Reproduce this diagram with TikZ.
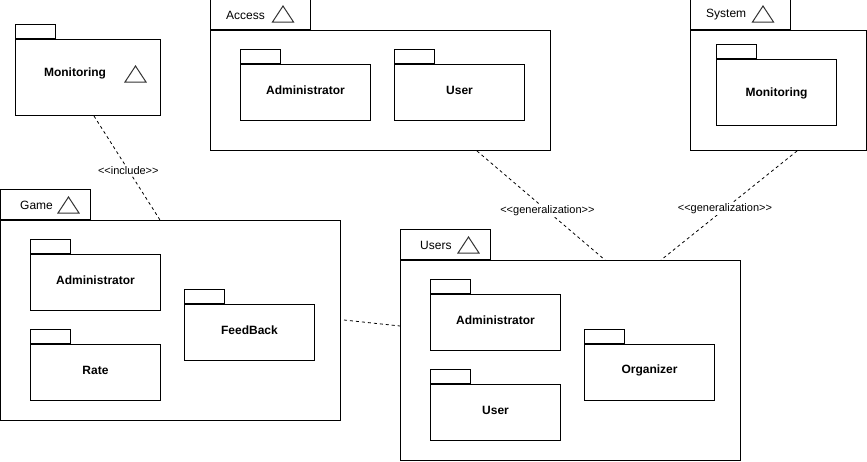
\documentclass[tikz,border=0pt]{standalone}
\usepackage{fontspec}
\setmainfont{Liberation Sans}
\usetikzlibrary{calc}
\tikzset{
  x=1pt, y=-1pt,
  pkgbox/.style={draw=black, line width=1pt, fill=white, inner sep=0pt, anchor=north west},
  pkgtab/.style={draw=black, line width=1pt, fill=white, inner sep=0pt, anchor=south west},
  inname/.style={font=\fontsize{12}{14}\selectfont\bfseries, yshift=2.5pt},
  tabname/.style={font=\fontsize{12}{14}\selectfont, anchor=west, inner sep=0pt},
  tri/.style={draw=black!80, line width=1pt, line join=miter},
  dep/.style={draw=black, line width=0.8pt, dash pattern=on 3pt off 3pt},
  deplabel/.style={fill=white, inner sep=1pt, font=\fontsize{11}{13}\selectfont}
}
\newcommand{\umltri}[2]{\draw[tri] (#1-10.5,#2+8) -- (#1,#2-8) -- (#1+10.5,#2+8) -- cycle;}
\begin{document}
\begin{tikzpicture}
\useasboundingbox (0,0) rectangle (867,461);

% ---- Monitoring (top-left)
\node[pkgbox, minimum width=145, minimum height=76] (monB) at (15,39) {};
\node[pkgtab, minimum width=40, minimum height=14] (monT) at (monB.north west) {};
\node[font=\fontsize{12}{14}\selectfont\bfseries] (monL) at (75,73) {Monitoring};
\umltri{135.5}{74}

% ---- Access
\node[pkgbox, minimum width=340, minimum height=120] (accB) at (210,30) {};
\node[pkgtab, minimum width=100, minimum height=30] (accT) at (accB.north west) {};
\node[tabname] (accL) at (226,15) {Access};
\umltri{283}{14}
\node[pkgbox, minimum width=130, minimum height=56] (accAB) at (240,64) {};
\node[pkgtab, minimum width=40, minimum height=14] (accAT) at (accAB.north west) {};
\node[inname] at (accAB.center) {Administrator};
\node[pkgbox, minimum width=130, minimum height=56] (accUB) at (394,64) {};
\node[pkgtab, minimum width=40, minimum height=14] (accUT) at (accUB.north west) {};
\node[inname] at (accUB.center) {User};

% ---- System
\node[pkgbox, minimum width=176, minimum height=120] (sysB) at (690,30) {};
\node[pkgtab, minimum width=100, minimum height=30] (sysT) at (sysB.north west) {};
\node[tabname] (sysL) at (706,15) {System};
\umltri{763}{14}
\node[pkgbox, minimum width=120, minimum height=66] (sysMB) at (716,59) {};
\node[pkgtab, minimum width=40, minimum height=14] (sysMT) at (sysMB.north west) {};
\node[font=\fontsize{12}{14}\selectfont\bfseries] at ($(sysMB.center)+(0,1)$) {Monitoring};

% ---- Game
\node[pkgbox, minimum width=340, minimum height=200] (gameB) at (0,220) {};
\node[pkgtab, minimum width=90, minimum height=30] (gameT) at (gameB.north west) {};
\node[tabname] (gameL) at (20,205) {Game};
\umltri{68.5}{205}
\node[pkgbox, minimum width=130, minimum height=56] (gameAB) at (30,254) {};
\node[pkgtab, minimum width=40, minimum height=14] (gameAT) at (gameAB.north west) {};
\node[inname] at (gameAB.center) {Administrator};
\node[pkgbox, minimum width=130, minimum height=56] (gameRB) at (30,344) {};
\node[pkgtab, minimum width=40, minimum height=14] (gameRT) at (gameRB.north west) {};
\node[inname] at (gameRB.center) {Rate};
\node[pkgbox, minimum width=130, minimum height=56] (gameFB) at (184,304) {};
\node[pkgtab, minimum width=40, minimum height=14] (gameFT) at (gameFB.north west) {};
\node[inname] at (gameFB.center) {FeedBack};

% ---- Users
\node[pkgbox, minimum width=340, minimum height=200] (usrB) at (400,260) {};
\node[pkgtab, minimum width=90, minimum height=30] (usrT) at (usrB.north west) {};
\node[tabname] (usrL) at (420,245) {Users};
\umltri{468.5}{245}
\node[pkgbox, minimum width=130, minimum height=56] (usrAB) at (430,294) {};
\node[pkgtab, minimum width=40, minimum height=14] (usrAT) at (usrAB.north west) {};
\node[inname] at (usrAB.center) {Administrator};
\node[pkgbox, minimum width=130, minimum height=56] (usrUB) at (430,384) {};
\node[pkgtab, minimum width=40, minimum height=14] (usrUT) at (usrUB.north west) {};
\node[inname] at (usrUB.center) {User};
\node[pkgbox, minimum width=130, minimum height=56] (usrOB) at (584,344) {};
\node[pkgtab, minimum width=40, minimum height=14] (usrOT) at (usrOB.north west) {};
\node[inname] at (usrOB.center) {Organizer};

% ---- connectors
\draw[dep] ($(monB.south west)+(79,0)$) -- node[deplabel, pos=0.52] {<{}<include>{}>} ($(gameB.north west)+(160,0)$);
\draw[dep] ($(accB.south west)+(267,0)$) -- node[deplabel, pos=0.55] {<{}<generalization>{}>} ($(usrB.north west)+(205,0)$);
\draw[dep] ($(sysB.south west)+(107,0)$) -- node[deplabel, pos=0.53] {<{}<generalization>{}>} ($(usrB.north west)+(261,0)$);
\draw[dep] ($(gameB.north east)+(3,100)$) -- ($(usrB.north west)+(0,66)$);
\end{tikzpicture}
\end{document}
